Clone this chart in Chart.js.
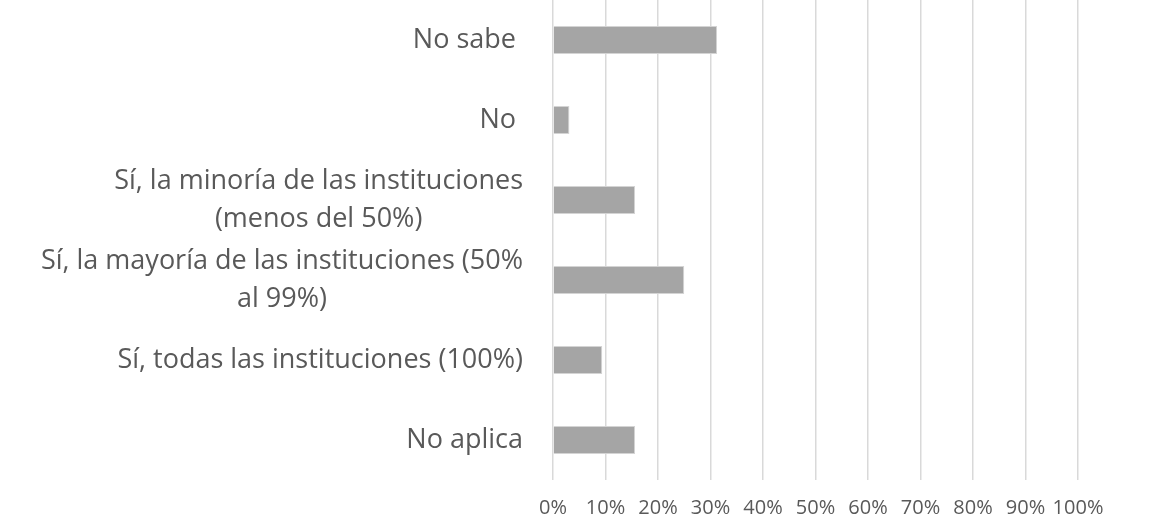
<!DOCTYPE html>
<html>
<head>
<meta charset="utf-8">
<script src="https://cdn.jsdelivr.net/npm/chart.js@4/dist/chart.umd.min.js"></script>
<style>
  html, body { margin: 0; padding: 0; background: #fff; }
  #wrap { width: 1150px; height: 520px; }
</style>
</head>
<body>
<div id="wrap"><canvas id="chart" width="1150" height="520"></canvas></div>
<script>
const categories = [
  "No sabe ",
  "No ",
  ["Sí, la minoría de las instituciones", "(menos del 50%)"],
  ["Sí, la mayoría de las instituciones (50%", "al 99%)"],
  "Sí, todas las instituciones (100%)",
  "No aplica",
];
const shares = [31.25, 3.125, 15.625, 25, 9.375, 15.625];
const tickValues = [0, 10, 20, 30, 40, 50, 60, 70, 80, 90, 100];

const textColor = "#595959";
const fontFamily = "'Open Sans', Lato, sans-serif";
const labelSize = 27;
const labelLine = 38;

// Excel centres wrapped category lines within a right-aligned block
const centeredLabels = {
  id: "centeredLabels",
  afterDraw(chart) {
    const scale = chart.scales.y;
    const ctx = chart.ctx;
    const right = scale.right - 30;
    ctx.save();
    ctx.font = `${labelSize}px ${fontFamily}`;
    ctx.fillStyle = textColor;
    ctx.textAlign = "center";
    ctx.textBaseline = "middle";
    categories.forEach((label, i) => {
      const lines = Array.isArray(label) ? label : [label];
      const widest = Math.max(...lines.map((l) => ctx.measureText(l).width));
      const cx = right - widest / 2;
      const y0 = scale.getPixelForTick(i) - (lines.length - 1) * labelLine / 2;
      lines.forEach((line, j) => ctx.fillText(line, cx, y0 + j * labelLine));
    });
    ctx.restore();
  },
};

new Chart(document.getElementById("chart"), {
  type: "bar",
  data: {
    labels: categories,
    datasets: [{
      data: shares,
      backgroundColor: "#a5a5a5",
      borderColor: "#d4d4d4",
      borderWidth: 1,
      barPercentage: 0.5,
      categoryPercentage: 0.7,
    }],
  },
  plugins: [centeredLabels],
  options: {
    indexAxis: "y",
    responsive: false,
    animation: false,
    layout: { padding: { top: 0, right: 72, bottom: 0, left: 0 } },
    plugins: { legend: { display: false }, tooltip: { enabled: false } },
    scales: {
      x: {
        min: 0,
        max: 100,
        afterBuildTicks: (scale) => { scale.ticks = tickValues.map((v) => ({ value: v })); },
        ticks: {
          callback: (value) => `${value}%`,
          color: textColor,
          font: { family: fontFamily, size: 20 },
          padding: 16,
          maxRotation: 0,
          minRotation: 0,
          autoSkip: false,
        },
        grid: { color: "#d9d9d9", lineWidth: 1.5, drawTicks: false },
        border: { display: false },
        afterFit: (scale) => { scale.height = 40; scale.paddingLeft = 0; scale.paddingRight = 0; },
      },
      y: {
        ticks: { display: false },
        grid: { display: false },
        border: { display: false },
        afterFit: (scale) => { scale.width = 553; scale.paddingTop = 0; scale.paddingBottom = 0; },
      },
    },
  },
});
</script>
</body>
</html>
